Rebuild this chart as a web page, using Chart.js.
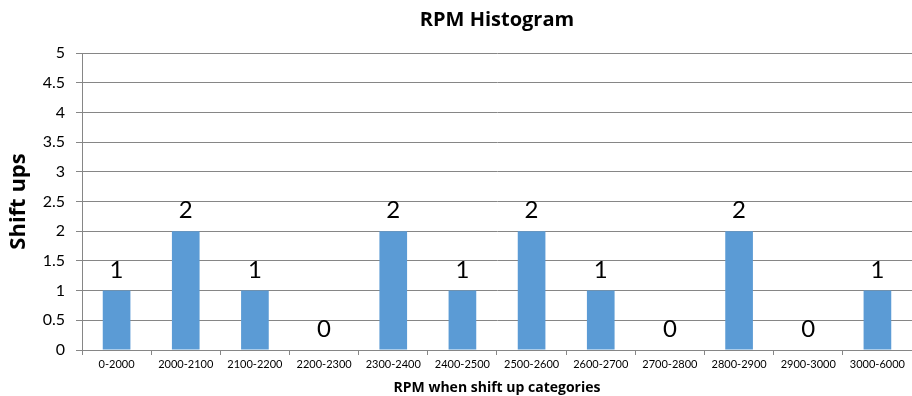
<!DOCTYPE html>
<html lang="en">
<head>
  <meta charset="UTF-8" />
  <title>RPM Histogram</title>
  <script src="https://cdn.jsdelivr.net/npm/chart.js"></script>
  <style>
    body {
      margin: 0;
      background: white;
    }
    #wrap {
      width: 912px;
      height: 396px;
    }
  </style>
</head>
<body>
  <div id="wrap"><canvas id="rpmChart" width="912" height="396"></canvas></div>

  <script>
    // categorias y valores
    const categories = [
      "0-2000", "2000-2100", "2100-2200", "2200-2300", "2300-2400", "2400-2500",
      "2500-2600", "2600-2700", "2700-2800", "2800-2900", "2900-3000", "3000-6000"
    ];
    const shiftUps = [1, 2, 1, 0, 2, 1, 2, 1, 0, 2, 0, 1];
    const yTicks = [0, 0.5, 1, 1.5, 2, 2.5, 3, 3.5, 4, 4.5, 5];

    const FONT = "Lato, 'Open Sans', sans-serif";
    const BOLD_FONT = "'Open Sans', Lato, sans-serif";

    // etiquetas encima de cada barra
    const valueLabels = {
      id: 'valueLabels',
      afterDatasetsDraw(chart) {
        const ctx = chart.ctx;
        const meta = chart.getDatasetMeta(0);
        ctx.save();
        ctx.font = `24px ${FONT}`;
        ctx.fillStyle = '#000';
        ctx.textAlign = 'center';
        ctx.textBaseline = 'alphabetic';
        meta.data.forEach((bar, i) => {
          ctx.fillText(String(shiftUps[i]), bar.x, bar.y - 13);
        });
        ctx.restore();
      }
    };

    const ctx = document.getElementById('rpmChart').getContext('2d');
    new Chart(ctx, {
      type: 'bar',
      data: {
        labels: categories,
        datasets: [{
          label: 'Shift ups',
          data: shiftUps,
          backgroundColor: '#5B9BD5',
          categoryPercentage: 1,
          barPercentage: 0.4
        }]
      },
      options: {
        responsive: false,
        animation: false,
        layout: {
          padding: { top: 8, right: 0, bottom: 0, left: 6 }
        },
        plugins: {
          legend: { display: false },
          tooltip: { enabled: false },
          title: {
            display: true,
            text: 'RPM Histogram',
            fullSize: false,
            color: '#000',
            font: { family: BOLD_FONT, size: 20, weight: 'bold' },
            padding: { top: 0, bottom: 21 }
          }
        },
        scales: {
          x: {
            grid: {
              offset: true,
              drawOnChartArea: false,
              drawTicks: true,
              tickLength: 5,
              color: '#868686'
            },
            border: { color: '#868686' },
            ticks: {
              color: '#000',
              font: { family: FONT, size: 11 },
              maxRotation: 0,
              autoSkip: false,
              padding: 3
            },
            title: {
              display: true,
              text: 'RPM when shift up categories',
              color: '#000',
              font: { family: BOLD_FONT, size: 14, weight: 'bold' },
              padding: { top: 5, bottom: 0 }
            }
          },
          y: {
            min: 0,
            max: 5,
            afterBuildTicks: axis => {
              axis.ticks = yTicks.map(v => ({ value: v }));
            },
            afterFit: axis => {
              axis.width = 76;
            },
            grid: {
              color: '#868686',
              tickLength: 6
            },
            border: { color: '#868686' },
            ticks: {
              color: '#000',
              font: { family: FONT, size: 16 },
              padding: 11,
              callback: v => String(v)
            },
            title: {
              display: true,
              text: 'Shift ups',
              color: '#000',
              font: { family: BOLD_FONT, size: 22, weight: 'bold' },
              padding: { top: 0, bottom: 4 }
            }
          }
        }
      },
      plugins: [valueLabels]
    });
  </script>
</body>
</html>
